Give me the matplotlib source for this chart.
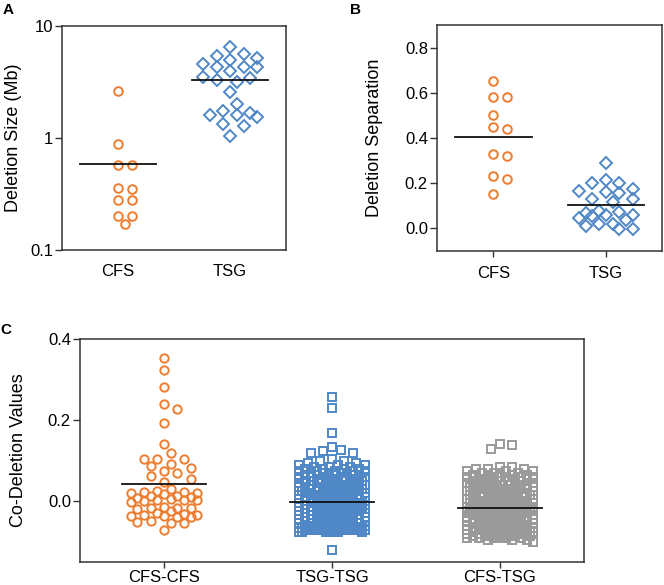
import numpy as np
import matplotlib
matplotlib.use('Agg')
import matplotlib.pyplot as plt

plt.rcParams['font.family'] = ['Liberation Sans', 'DejaVu Sans']

# ---- data ----
groups_ab = ['CFS', 'TSG']

# A: deletion size (Mb)
size_cfs = [2.63, 0.88, 0.57, 0.57, 0.36, 0.35, 0.28, 0.28, 0.20, 0.20, 0.17]
size_tsg = [6.5, 5.66, 5.4, 5.2, 4.97, 4.55, 4.28, 4.28, 4.28, 3.96, 3.53, 3.41,
            3.3, 3.18, 2.56, 2.01, 1.73, 1.66, 1.62, 1.59, 1.53, 1.34, 1.29, 1.04]

# B: deletion separation
sep_cfs = [0.65, 0.58, 0.58, 0.50, 0.45, 0.44, 0.33, 0.32, 0.23, 0.22, 0.15]
sep_tsg = [0.291, 0.212, 0.202, 0.202, 0.175, 0.165, 0.160, 0.158, 0.131, 0.131,
           0.116, 0.079, 0.071, 0.068, 0.061, 0.059, 0.053, 0.046, 0.039, 0.021,
           0.019, 0.009, -0.002, -0.002]

# C: co-deletion values
groups_c = ['CFS-CFS', 'TSG-TSG', 'CFS-TSG']
codel_cfs_cfs = [0.352, 0.323, 0.282, 0.239, 0.227, 0.192, 0.141, 0.119, 0.104, 0.104,
                 0.104, 0.092, 0.086, 0.081, 0.075, 0.069, 0.062, 0.054, 0.048, 0.030,
                 0.024, 0.022, 0.020, 0.018, 0.022, 0.020, 0.012, 0.010, 0.008, 0.014,
                 0.004, 0.002, 0.000, 0.002, 0.006, -0.002, -0.014, -0.017, -0.020, -0.016,
                 -0.018, -0.025, -0.030, -0.032, -0.034, -0.036, -0.036, -0.038, -0.040, -0.033,
                 -0.050, -0.053, -0.055, -0.052, -0.070]

# dense groups: outliers + value levels with counts (read as a histogram)
tsg_tsg_outliers = [0.256, 0.231, 0.167, 0.134, 0.126, 0.124, 0.119, 0.119, -0.121]
tsg_tsg_levels = [0.105, 0.100, 0.095, 0.090, 0.085, 0.080, 0.075, 0.070, 0.065, 0.060,
                  0.055, 0.050, 0.045, 0.040, 0.035, 0.030, 0.025, 0.020, 0.015, 0.010,
                  0.005, 0.000, -0.005, -0.010, -0.015, -0.020, -0.025, -0.030, -0.035, -0.040,
                  -0.045, -0.050, -0.055, -0.060, -0.065, -0.070, -0.075]
tsg_tsg_counts = [1, 2, 2, 3, 3, 4, 5, 5, 5, 5,
                  5, 5, 5, 5, 7, 7, 7, 7, 7, 8,
                  8, 8, 9, 9, 9, 9, 9, 9, 9, 9,
                  9, 9, 9, 10, 16, 20, 8]

cfs_tsg_outliers = [0.142, 0.138, 0.128]
cfs_tsg_levels = [0.085, 0.080, 0.075, 0.070, 0.065, 0.060, 0.055, 0.050, 0.045, 0.040,
                  0.035, 0.030, 0.025, 0.020, 0.015, 0.010, 0.005, 0.000, -0.005, -0.010,
                  -0.015, -0.020, -0.025, -0.030, -0.035, -0.040, -0.045, -0.050, -0.055, -0.060,
                  -0.065, -0.070, -0.075, -0.080, -0.085, -0.090, -0.095, -0.100]
cfs_tsg_counts = [2, 3, 3, 4, 4, 5, 5, 4, 5, 5,
                  6, 5, 6, 7, 7, 7, 7, 8, 8, 8,
                  12, 13, 8, 8, 8, 9, 9, 9, 9, 9,
                  9, 12, 10, 9, 8, 6, 3, 1]

codel_tsg_tsg = tsg_tsg_outliers + list(np.repeat(tsg_tsg_levels, tsg_tsg_counts))
codel_cfs_tsg = cfs_tsg_outliers + list(np.repeat(cfs_tsg_levels, cfs_tsg_counts))

ORANGE = '#EE7D30'
BLUE = '#4F87C7'
GRAY = '#9A9A9A'
SPINE = '#333333'


def swarm_x(ax, x0, values, step_px, max_k, min_dist):
    """Prism-like column scatter: offsets on a pixel grid, greedy placement"""
    values = np.asarray(values, dtype=float)
    pts = ax.transData.transform(np.column_stack([np.full(len(values), x0), values]))
    y_px = pts[:, 1]
    p0 = ax.transData.transform((0, values[0]))
    p1 = ax.transData.transform((1, values[0]))
    px_per_unit = p1[0] - p0[0]
    cands = np.array([0] + [s * k for k in range(1, max_k + 1) for s in (1, -1)])
    placed_x, placed_y = [], []
    offs = np.zeros(len(values))
    for i in np.argsort(-values, kind='stable'):
        y = y_px[i]
        j = 0
        if placed_x:
            px_ = np.array(placed_x)
            py_ = np.array(placed_y)
            dmin = np.array([np.min(np.hypot(k * step_px - px_, y - py_)) for k in cands])
            ok = np.where(dmin >= min_dist)[0]
            j = ok[0] if len(ok) else int(np.argmax(dmin))
        dx = cands[j] * step_px
        placed_x.append(dx)
        placed_y.append(y)
        offs[i] = dx / px_per_unit
    return x0 + offs


def style_axes(ax):
    for sp in ax.spines.values():
        sp.set_color(SPINE)
        sp.set_linewidth(1.1)
    ax.tick_params(axis='y', length=5, width=1, pad=1.5, labelsize=12, color=SPINE)
    ax.tick_params(axis='x', length=4.5, width=1, pad=6, labelsize=12, color=SPINE)
    ax.minorticks_off()


def mean_line(ax, x0, values, half):
    m = np.mean(values)
    ax.plot([x0 - half, x0 + half], [m, m], color='#111111', lw=1.3, zorder=5)


fig = plt.figure(figsize=(6.64, 5.85), dpi=100)
W, H = 664, 585


def add_ax(l, r, t, b):
    return fig.add_axes([l / W, 1 - b / H, (r - l) / W, (b - t) / H])


# ---- A ----
axA = add_ax(62, 286, 26, 250)
axA.set_yscale('log')
axA.set_ylim(0.1, 10)
axA.set_xlim(-0.5, 1.5)
style_axes(axA)
axA.set_yticks([0.1, 1, 10])
axA.set_yticklabels(['0.1', '1', '10'])
axA.minorticks_off()
axA.set_xticks([0, 1])
axA.set_xticklabels(groups_ab)
axA.tick_params(axis='x', length=0, pad=10)
xa = swarm_x(axA, 0, size_cfs, 6.75, 4, 10)
axA.plot(xa, size_cfs, ls='none', marker='o', ms=6.2, mfc='none', mec=ORANGE, mew=1.4)
xa = swarm_x(axA, 1, size_tsg, 6.75, 4, 12)
axA.plot(xa, size_tsg, ls='none', marker='D', ms=6.0, mfc='none', mec=BLUE, mew=1.4)
mean_line(axA, 0, size_cfs, 0.335)
mean_line(axA, 1, size_tsg, 0.335)
axA.set_ylabel('Deletion Size (Mb)', fontsize=13, va='center')
axA.yaxis.set_label_coords(-0.217, 0.5)

# ---- B ----
axB = add_ax(437, 662, 25, 251)
axB.set_ylim(-0.1, 0.9)
axB.set_xlim(-0.5, 1.5)
style_axes(axB)
axB.set_yticks([0.0, 0.2, 0.4, 0.6, 0.8])
axB.set_yticklabels(['0.0', '0.2', '0.4', '0.6', '0.8'])
axB.set_xticks([0, 1])
axB.set_xticklabels(groups_ab)
xb = swarm_x(axB, 0, sep_cfs, 6.75, 4, 10)
axB.plot(xb, sep_cfs, ls='none', marker='o', ms=6.2, mfc='none', mec=ORANGE, mew=1.4)
xb = swarm_x(axB, 1, sep_tsg, 6.75, 4, 11)
axB.plot(xb, sep_tsg, ls='none', marker='D', ms=6.0, mfc='none', mec=BLUE, mew=1.4)
mean_line(axB, 0, sep_cfs, 0.34)
mean_line(axB, 1, sep_tsg, 0.34)
axB.set_ylabel('Deletion Separation', fontsize=13, va='center')
axB.yaxis.set_label_coords(-0.276, 0.5)

# ---- C ----
axC = add_ax(80, 584, 339, 562)
axC.set_ylim(-0.15, 0.4)
axC.set_xlim(-0.5, 2.5)
style_axes(axC)
axC.set_yticks([0.0, 0.2, 0.4])
axC.set_yticklabels(['0.0', '0.2', '0.4'])
axC.set_xticks([0, 1, 2])
axC.set_xticklabels(groups_c)
axC.tick_params(axis='x', pad=1.0)
xc = swarm_x(axC, 0, codel_cfs_cfs, 6.67, 5, 9.5)
axC.plot(xc, codel_cfs_cfs, ls='none', marker='o', ms=6.0, mfc='none', mec=ORANGE, mew=1.4)
xc = swarm_x(axC, 1, codel_tsg_tsg, 3.0, 11, 9.5)
axC.plot(xc, codel_tsg_tsg, ls='none', marker='s', ms=5.6, mfc='none', mec=BLUE, mew=1.4)
xc = swarm_x(axC, 2, codel_cfs_tsg, 3.0, 11, 9.5)
axC.plot(xc, codel_cfs_tsg, ls='none', marker='s', ms=5.6, mfc='none', mec=GRAY, mew=1.4)
mean_line(axC, 0, codel_cfs_cfs, 0.25)
mean_line(axC, 1, codel_tsg_tsg, 0.25)
mean_line(axC, 2, codel_cfs_tsg, 0.25)
axC.set_ylabel('Co-Deletion Values', fontsize=13, va='center')
axC.yaxis.set_label_coords(-0.122, 0.5)

# panel letters
fig.text(3 / W, 1 - 3 / H, 'A', fontsize=11, fontweight='bold', va='top', ha='left')
fig.text(350 / W, 1 - 3 / H, 'B', fontsize=11, fontweight='bold', va='top', ha='left')
fig.text(0 / W, 1 - 323 / H, 'C', fontsize=11, fontweight='bold', va='top', ha='left')

fig.savefig('out.png', dpi=100)
